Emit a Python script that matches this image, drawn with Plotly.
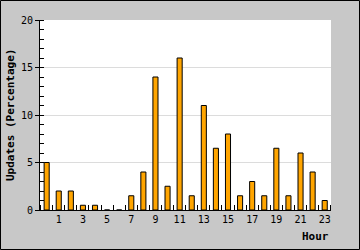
import plotly.graph_objects as go

hours = list(range(24))
updates = [5, 2, 2, 0.5, 0.5, 0, 0, 1.5, 4, 14, 2.5, 16, 1.5, 11, 6.5, 8, 1.5, 3, 1.5, 6.5, 1.5, 6, 4, 1]
x_tick_vals = [1, 3, 5, 7, 9, 11, 13, 15, 17, 19, 21, 23]
x_tick_text = [str(v) for v in x_tick_vals]
y_tick_vals = [0, 5, 10, 15, 20]

W, H = 360, 250
ml, mr, mt, mb = 40, 29, 20, 40
pw, ph = W - ml - mr, H - mt - mb

mono = "DejaVu Sans Mono"

fig = go.Figure(go.Bar(
    x=hours, y=updates, width=0.42,
    marker=dict(color="#FFA500", line=dict(color="black", width=1)),
))

fig.update_layout(
    width=W, height=H,
    margin=dict(l=ml, r=mr, t=mt, b=mb, pad=0),
    paper_bgcolor="#c8c8c8",
    plot_bgcolor="white",
    showlegend=False,
    font=dict(family=mono, size=10, color="black"),
    xaxis=dict(
        range=[-0.55, 23.52], tickvals=x_tick_vals, ticktext=x_tick_text,
        ticks="", showgrid=False, zeroline=False,
        showline=True, linecolor="black", linewidth=1,
        minor=dict(tick0=0.5, dtick=1, ticks="inside", ticklen=5, tickcolor="black", showgrid=False),
        tickfont=dict(family=mono, size=10),
    ),
    yaxis=dict(
        range=[0, 20], tickvals=y_tick_vals, ticks="outside", ticklen=4, tickcolor="black",
        showgrid=True, gridcolor="#dcdcdc", gridwidth=1, zeroline=False,
        showline=True, linecolor="black", linewidth=1,
        minor=dict(dtick=1, ticks="inside", ticklen=4, tickcolor="black", showgrid=False),
        tickfont=dict(family=mono, size=10),
    ),
    shapes=[dict(
        type="rect", xref="paper", yref="paper",
        x0=-(ml - 0.5) / pw, x1=(pw + mr - 0.5) / pw,
        y0=-(mb - 0.5) / ph, y1=(ph + mt - 0.5) / ph,
        line=dict(color="black", width=1), fillcolor="rgba(0,0,0,0)", layer="below",
    )],
    annotations=[
        dict(text="<b>Updates (Percentage)</b>", xref="paper", yref="paper",
             x=-(ml - 10) / pw, y=0.5, textangle=-90, showarrow=False,
             xanchor="center", yanchor="middle", font=dict(family=mono, size=11)),
        dict(text="<b>Hour</b>", xref="paper", yref="paper",
             x=1.0, y=-(236 - (mt + ph)) / ph, showarrow=False,
             xanchor="right", yanchor="middle", font=dict(family=mono, size=11)),
    ],
)

fig.write_html("out.html")
